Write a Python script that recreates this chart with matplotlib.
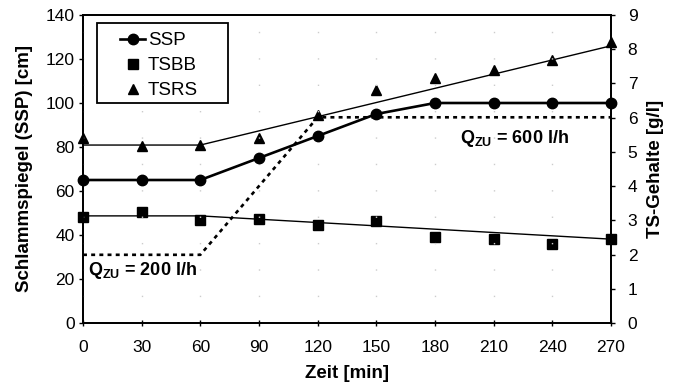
import numpy as np
import matplotlib.pyplot as plt
from matplotlib.patches import Rectangle

plt.rcParams['font.family'] = ['Liberation Sans', 'DejaVu Sans']

# data
zeit = [0, 30, 60, 90, 120, 150, 180, 210, 240, 270]
ssp = [65, 65, 65, 75, 85, 95, 100, 100, 100, 100]
tsbb = [3.1, 3.25, 3.0, 3.03, 2.86, 2.98, 2.51, 2.45, 2.32, 2.45]
tsrs = [5.41, 5.18, 5.2, 5.4, 6.08, 6.81, 7.15, 7.4, 7.69, 8.2]

# trend lines (g/l) and feed flow line (cm scale)
tsbb_fit_x = [0, 60, 270]
tsbb_fit_y = [3.13, 3.13, 2.45]
tsrs_fit_x = [0, 60, 270]
tsrs_fit_y = [5.2, 5.2, 8.1]
q_x = [0, 60, 120, 270]
q_y = [31, 31, 93.5, 93.5]

W, H = 674, 387
fig = plt.figure(figsize=(W / 100, H / 100), dpi=100)
ax = fig.add_axes([83 / W, 1 - 323 / H, (611 - 83) / W, (323 - 15) / H])
ax2 = ax.twinx()

ax.set_xlim(0, 270)
ax.set_ylim(0, 140)
ax2.set_ylim(0, 9)
ax.set_xticks(zeit)
ax.set_yticks(range(0, 141, 20))
ax2.set_yticks(range(0, 10))

ax.grid(axis='x', color='#cccccc', linestyle=(0, (1, 18)), linewidth=1)

# Q line
ax.plot(q_x, q_y, color='black', linestyle=(0, (1.5, 1.6)), linewidth=1.9)

# trend lines on right axis
ax2.plot(tsbb_fit_x, tsbb_fit_y, color='black', linewidth=1)
ax2.plot(tsrs_fit_x, tsrs_fit_y, color='black', linewidth=1)

l1, = ax.plot(zeit, ssp, color='black', linewidth=1.9, marker='o', markersize=7.5,
              label='SSP', clip_on=False, zorder=5)
l2, = ax2.plot(zeit, tsbb, color='black', linestyle='none', marker='s', markersize=7.5,
               label='TSBB', clip_on=False)
l3, = ax2.plot(zeit, tsrs, color='black', linestyle='none', marker='^', markersize=7,
               label='TSRS', clip_on=False)

ax.text(2.5, 24, r'Q$_\mathregular{ZU}$ = 200 l/h', fontsize=13, fontweight='bold', va='center')
ax.text(193, 84, r'Q$_\mathregular{ZU}$ = 600 l/h', fontsize=13, fontweight='bold', va='center')

# legend box
ax.add_patch(Rectangle(((97 - 83) / 528, (323 - 103) / 308), (228 - 97) / 528, 80 / 308,
                       transform=ax.transAxes, facecolor='white', edgecolor='black',
                       linewidth=1.3, zorder=6))
leg = ax.legend([l1, l2, l3], ['SSP', 'TSBB', 'TSRS'], loc='upper left',
                bbox_to_anchor=((120 - 83) / 528, (323 - 32) / 308), frameon=False,
                fontsize=13.5, handlelength=1.35, handletextpad=0.15,
                labelspacing=0.42, borderpad=0, borderaxespad=0)
leg.set_zorder(7)

ax.set_xlabel('Zeit [min]', fontsize=13.5, fontweight='bold', labelpad=7)
ax.set_ylabel('Schlammspiegel (SSP) [cm]', fontsize=13.5, fontweight='bold', labelpad=9)
ax2.set_ylabel('TS-Gehalte [g/l]', fontsize=13.5, fontweight='bold', labelpad=7)

for a in (ax, ax2):
    a.tick_params(labelsize=12.5, length=3, width=1, color='black')
    for s in a.spines.values():
        s.set_linewidth(1.3)
ax.tick_params(axis='x', direction='inout', length=5, pad=10)
ax.tick_params(axis='y', pad=3)
ax2.tick_params(axis='y', pad=9)
ax.set_zorder(ax2.get_zorder() + 1)
ax.patch.set_visible(False)

fig.savefig('out.png', dpi=100)
